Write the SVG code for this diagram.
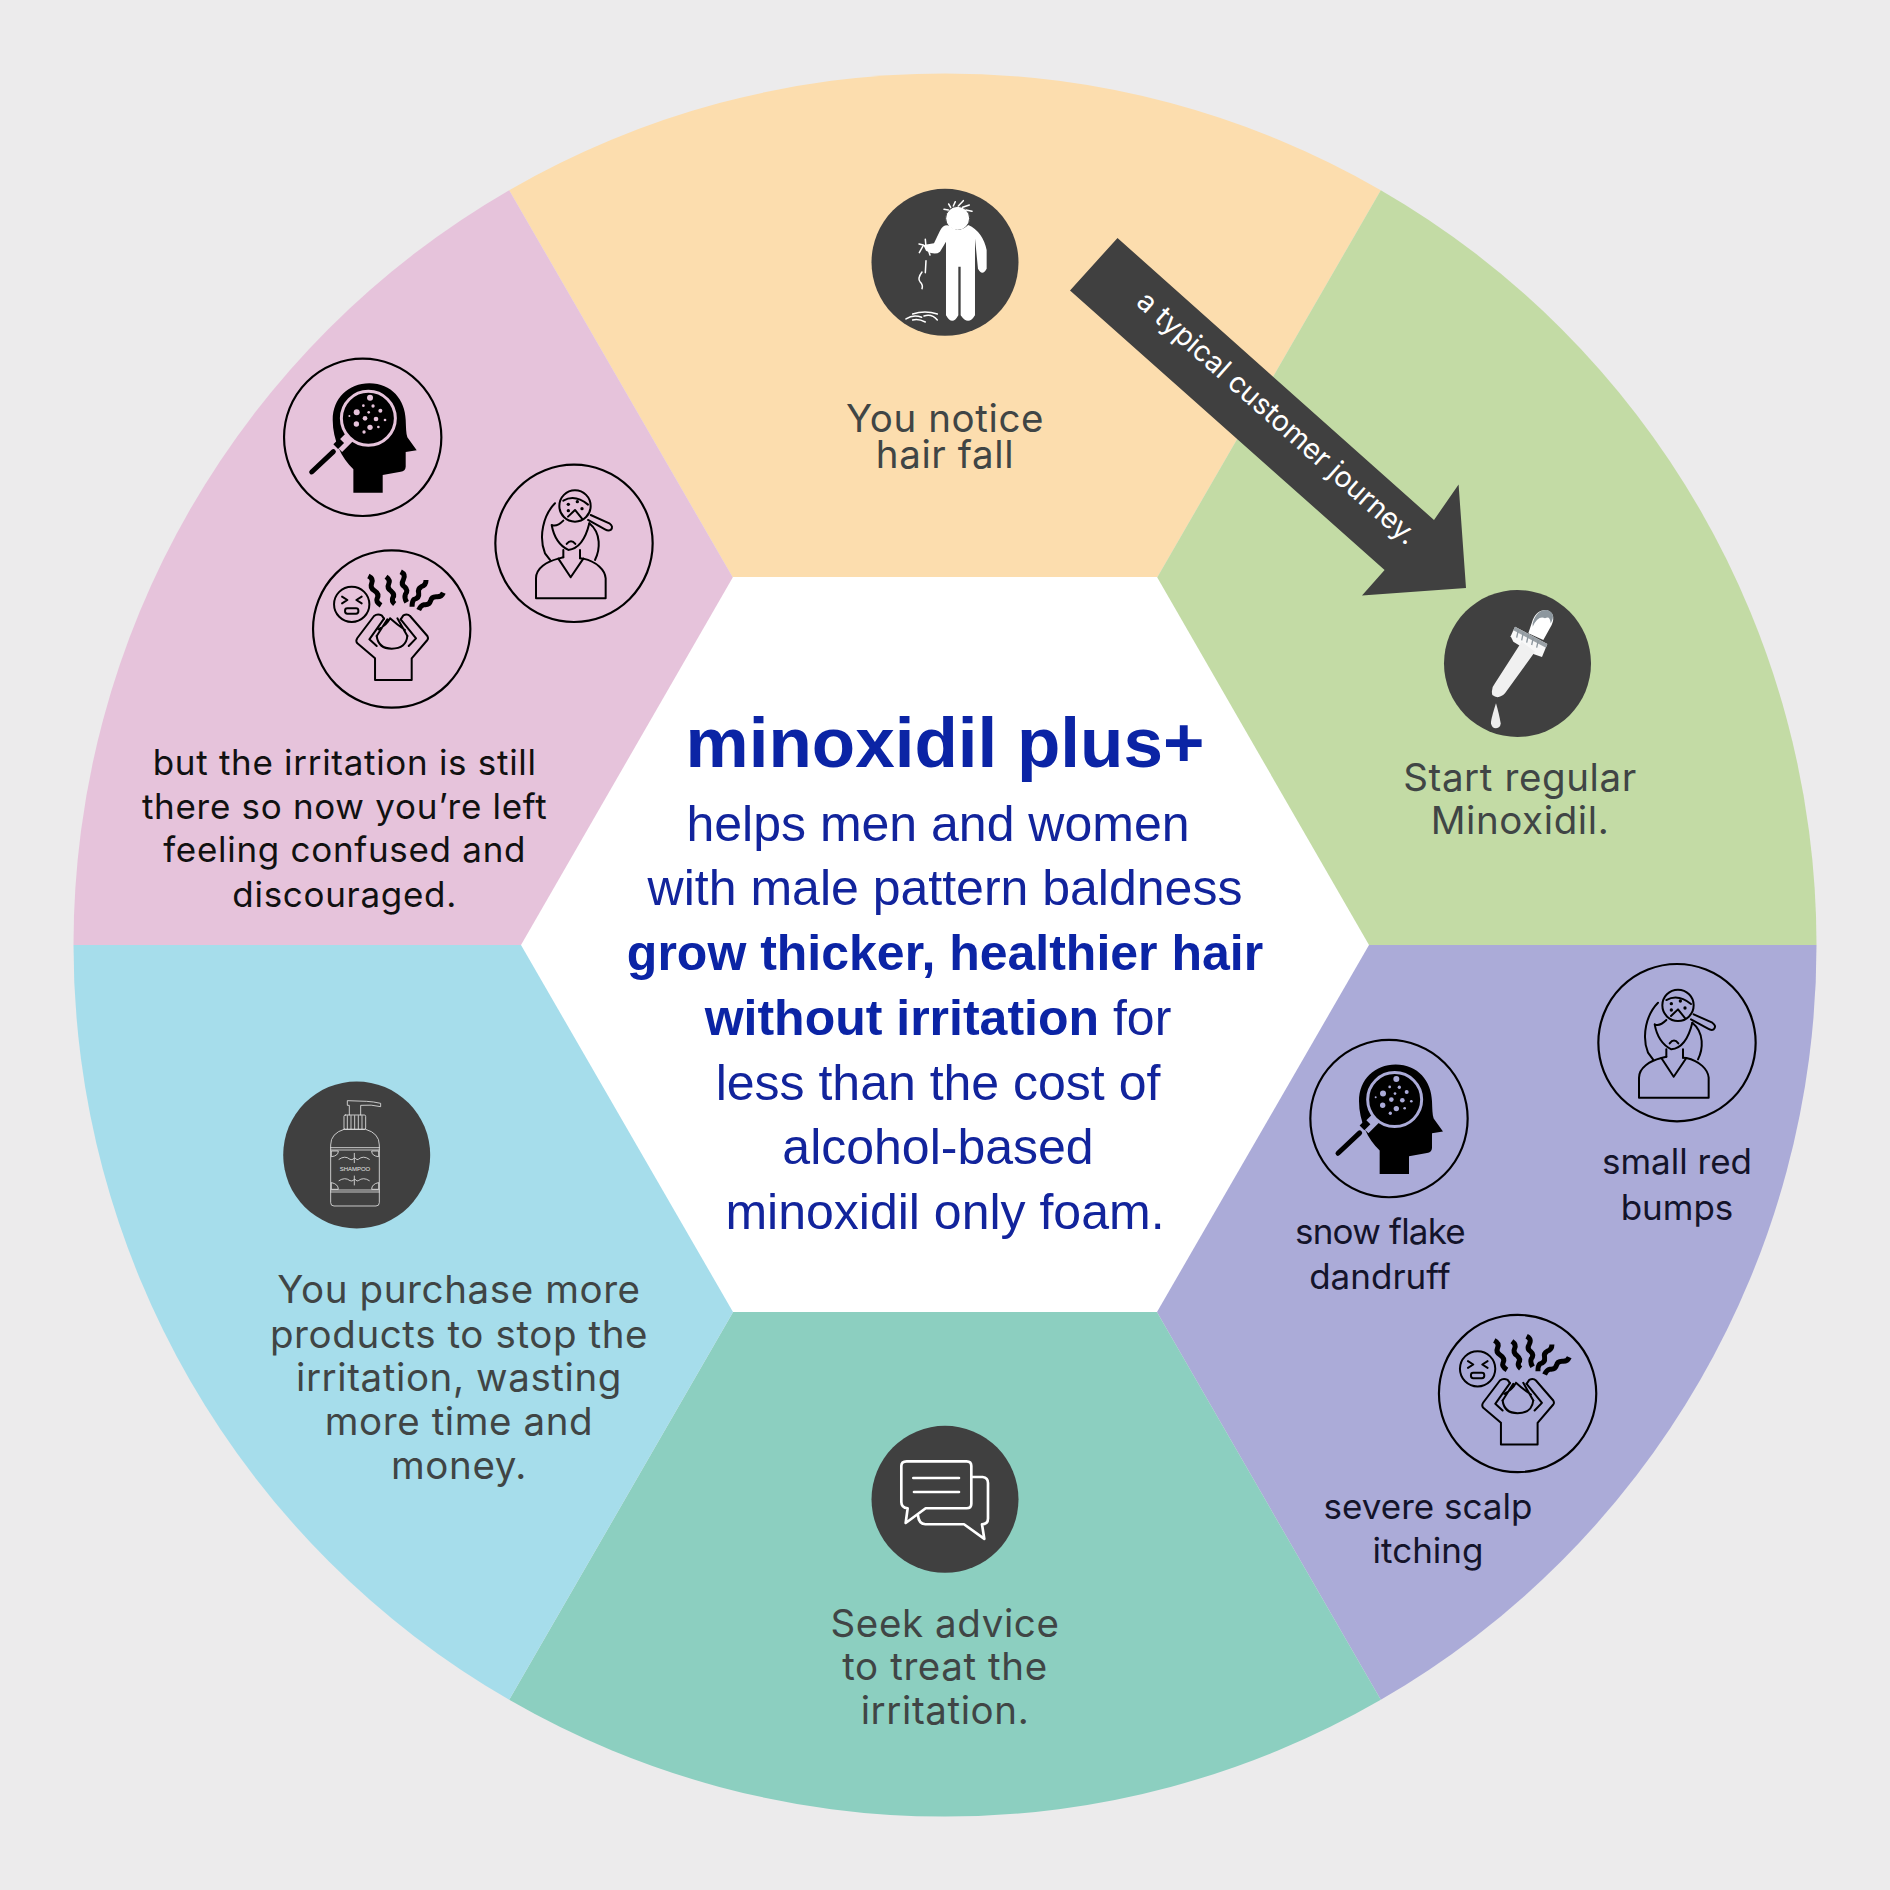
<svg xmlns="http://www.w3.org/2000/svg" width="1890" height="1890" viewBox="0 0 1890 1890">
<style>
.lbl{font-family:"Inter","Liberation Sans",sans-serif;font-size:38.5px;letter-spacing:.6px;fill:#404545;text-anchor:middle}
.alt{font-family:"Inter","Liberation Sans",sans-serif;font-size:35px;fill:#14142a;text-anchor:middle}
.pk{font-family:"Inter","Liberation Sans",sans-serif;font-size:35px;letter-spacing:.7px;fill:#111;text-anchor:middle}
.ctr{font-family:"Liberation Sans",Arial,sans-serif;font-size:50px;fill:#12249c;text-anchor:middle}
.b{font-weight:700;fill:#0b24a5}
.disc{fill:#404040}
.ring{fill:none;stroke:#000;stroke-width:6.5}
.ln{fill:none;stroke:#000;stroke-width:6;stroke-linejoin:round;stroke-linecap:round}
.wl{fill:none;stroke:#fff;stroke-linecap:round;stroke-linejoin:round}
.sq{fill:none;stroke:#000;stroke-width:15;stroke-linejoin:round}
.gl{fill:none;stroke:#e4e4e4;stroke-width:2.5;stroke-linejoin:round;stroke-linecap:round}
</style>
<defs>
<g id="head" transform="translate(-278,-292)">
<circle class="ring" cx="278" cy="292" r="236"/>
<path d="M250,458 L250,388 C215,355 188,300 188,240 C188,175 235,130 298,130 C365,130 405,180 407,240 C408,262 408,280 412,292 L440,331 L407,336 L407,380 Q406,394 392,395 L338,405 L338,458 Z" fill="#000"/>
<circle cx="295" cy="235" r="81" fill="#000" stroke="currentColor" stroke-width="9"/>
<path d="M238,292 L205,325" stroke="currentColor" stroke-width="32" fill="none"/>
<path d="M215,302 L197,320" stroke="#000" stroke-width="20" fill="none"/>
<path d="M190,335 L125,396" stroke="#000" stroke-width="15" stroke-linecap="round" fill="none"/>
<g fill="currentColor">
<circle cx="300" cy="173" r="9"/><circle cx="260" cy="217" r="9"/><circle cx="285" cy="235" r="7"/><circle cx="259" cy="252" r="8"/><circle cx="300" cy="262" r="8"/><circle cx="318" cy="237" r="7"/><circle cx="331" cy="212" r="6"/><circle cx="309" cy="198" r="5"/><circle cx="280" cy="197" r="4"/><circle cx="345" cy="240" r="4"/><circle cx="238" cy="228" r="3"/><circle cx="282" cy="276" r="5"/><circle cx="325" cy="261" r="4"/><circle cx="296" cy="217" r="4"/>
</g>
</g>
<g id="woman" transform="translate(-222,-220)">
<circle class="ring" cx="222" cy="220" r="236"/>
<g class="ln">
<circle cx="225" cy="108" r="47"/>
<path d="M272,135 L328,160 Q342,170 332,180 Q325,184 315,178 L264,150"/>
<path d="M190,92 Q225,72 264,104"/>
<path d="M204,140 L225,120 L246,146"/>
<path d="M165,100 C130,135 115,200 135,250 L150,270"/>
<path d="M268,160 C305,190 300,240 285,270"/>
<path d="M155,165 Q165,220 205,240 Q250,235 268,160 M155,165 Q170,172 190,152"/>
<path d="M200,222 Q213,205 226,222"/>
<path d="M190,240 L190,262 M240,240 L240,265"/>
<path d="M175,266 L212,322 L250,266"/>
<path d="M108,385 L108,325 C108,295 140,275 175,266 L190,262 M240,265 L250,266 C290,275 315,300 317,325 L317,385 L108,385"/>
</g>
<g fill="#000"><circle cx="205" cy="103" r="5"/><circle cx="232" cy="95" r="5"/><circle cx="205" cy="122" r="5"/><circle cx="246" cy="116" r="5"/></g>
</g>
<g id="stress" transform="translate(-245,-237)">
<circle class="ring" cx="245" cy="237" r="236"/>
<circle class="ln" cx="125" cy="163" r="53"/>
<path class="ln" d="M96,140 L112,150 L96,160 M155,140 L139,150 L155,160"/>
<rect class="ln" x="105" y="175" width="40" height="16" rx="7"/>
<path class="sq" d="M175,78 q16,8 10,22 q-6,14 8,22 q16,10 8,24 q-4,10 12,20"/>
<path class="sq" d="M228,80 q14,10 8,22 q-6,12 8,22 q12,10 4,20 q-4,10 6,18"/>
<path class="sq" d="M272,65 q16,8 8,24 q-8,14 4,22 q12,10 2,22 q-4,10 4,24"/>
<path class="sq" d="M348,90 q0,16 -14,20 q-12,6 -8,20 q2,14 -14,18 q-6,6 -6,22"/>
<path class="sq" d="M400,128 q-6,14 -22,12 q-14,0 -16,12 q-4,14 -20,12 q-10,2 -16,16"/>
<path class="ln" d="M195,325 L195,390 L305,390 L305,325 L352,270 Q356,265 352,258 L300,198 Q292,190 280,196 L272,208 M195,325 L142,280 Q136,272 142,264 L192,198 Q202,190 215,196 L222,206"/>
<path class="ln" d="M222,206 L178,268 L200,288 M272,208 L318,265 L296,288"/>
<path class="ln" d="M200,258 Q205,296 245,296 Q288,296 292,258"/>
<path class="ln" d="M200,258 L232,208 M292,258 L262,205 M205,238 Q230,225 240,205 M240,205 Q262,225 285,240"/>
</g>
</defs>

<rect width="1890" height="1890" fill="#ecebec"/>

<g id="wheel">
<path d="M945,945 L509.2,190.2 A871.5,871.5 0 0 1 1380.8,190.2 Z" fill="#fcddae"/>
<path d="M945,945 L1380.8,190.2 A871.5,871.5 0 0 1 1816.5,945 Z" fill="#c3dba5"/>
<path d="M945,945 L1816.5,945 A871.5,871.5 0 0 1 1380.8,1699.8 Z" fill="#ababd8"/>
<path d="M945,945 L1380.8,1699.8 A871.5,871.5 0 0 1 509.2,1699.8 Z" fill="#8ccfc0"/>
<path d="M945,945 L509.2,1699.8 A871.5,871.5 0 0 1 73.5,945 Z" fill="#a6ddeb"/>
<path d="M945,945 L73.5,945 A871.5,871.5 0 0 1 509.2,190.2 Z" fill="#e6c3db"/>
</g>

<g id="center">
<polygon points="733,577 1157,577 1369,945 1157,1312 733,1312 521,945" fill="#fff"/>
<text class="ctr b" x="945" y="767" style="font-size:71px">minoxidil plus+</text>
<text class="ctr" x="938" y="841">helps men and women</text>
<text class="ctr" x="945" y="905">with male pattern baldness</text>
<text class="ctr b" x="945" y="970">grow thicker, healthier hair</text>
<text class="ctr" x="938" y="1035"><tspan class="b">without irritation</tspan> for</text>
<text class="ctr" x="938" y="1100">less than the cost of</text>
<text class="ctr" x="938" y="1164">alcohol-based</text>
<text class="ctr" x="945" y="1229">minoxidil only foam.</text>
</g>

<g id="connectors">
<polygon points="1117.5,238 1434,520 1458.6,484.5 1466,588 1362,595.5 1384.6,570 1070,290.5" fill="#404040"/>
<text transform="translate(1135,304) rotate(41.7)" font-family="Inter,'Liberation Sans',sans-serif" font-size="28.5" fill="#fff">a typical customer journey.</text>
</g>

<g id="node-hair-fall">
<circle class="disc" cx="945" cy="262.3" r="73.5"/>
<g transform="translate(840,170) scale(.3333)">
<circle cx="353" cy="145" r="36" fill="#fff" stroke="#404040" stroke-width="3"/>
<path d="M300,182 Q312,160 330,168 Q355,192 385,165 Q428,185 440,240 L440,296 Q427,320 414,296 L405,205 L405,436 Q385,469 362,436 L362,290 L355,290 L355,436 Q337,469 318,436 L318,215 L300,245 Q285,258 258,242 L250,225 L282,220 Z" fill="#fff"/>
<g class="wl" stroke-width="4.5">
<path d="M340,108 L346,95 M332,112 L326,102 M355,108 L370,92 M368,112 L388,105 M378,120 L396,124 M325,120 L312,118"/>
<path d="M258,272 L256,308 M246,306 Q232,325 240,335 Q250,345 246,356"/>
<path d="M250,226 L238,248 M250,225 L237,222 M258,230 L256,208 M265,240 L270,255"/>
<path d="M218,432 Q255,420 292,432 M198,447 Q220,432 245,442 M252,438 Q275,430 292,450 M218,450 Q235,445 256,456"/>
</g>
</g>
<text class="lbl" x="945" y="431.5">You notice</text>
<text class="lbl" x="945" y="468">hair fall</text>
</g>

<g id="node-minoxidil">
<circle class="disc" cx="1517.5" cy="663.5" r="73.5"/>
<g transform="translate(1460,595) scale(.3333)">
<path d="M215,85 Q225,45 260,45 Q290,55 275,90 L250,135 L205,115 Z" fill="#fff"/>
<path d="M218,85 Q230,42 262,45 Q290,55 272,85 Q270,60 255,70 Q235,60 218,95 Z" fill="#8d979e"/>
<path d="M165,95 L262,147 L246,186 L222,178 L160,140 L152,124 Z" fill="#f8f8f8"/>
<path d="M165,95 L262,147 L258,158 L160,106 Z" fill="#9aa1a6"/>
<path d="M175,105 L170,128 M190,112 L185,136 M205,120 L200,143 M220,128 L215,150 M235,136 L230,158" stroke="#8d979e" stroke-width="4"/>
<path d="M185,140 L225,170 L135,295 Q115,315 97,300 Q92,280 105,265 Z" fill="#f0f0f0"/>
<path d="M108,325 Q92,375 93,385 Q95,400 108,400 Q122,398 122,385 Q118,360 108,325 Z" fill="#eee"/>
</g>
<text class="lbl" x="1520" y="791">Start regular</text>
<text class="lbl" x="1520" y="834">Minoxidil.</text>
</g>

<g id="node-symptoms" style="color:#ababd8">
<use href="#head" transform="translate(1389,1118.6) scale(.3333)"/>
<use href="#woman" transform="translate(1677,1042.7) scale(.3333)"/>
<use href="#stress" transform="translate(1517.6,1393.5) scale(.3333)"/>
<text class="alt" x="1380" y="1244" style="letter-spacing:-.8px">snow flake</text>
<text class="alt" x="1380" y="1288.6">dandruff</text>
<text class="alt" x="1677" y="1174">small red</text>
<text class="alt" x="1677" y="1220">bumps</text>
<text class="alt" x="1428" y="1519">severe scalp</text>
<text class="alt" x="1428" y="1563">itching</text>
</g>

<g id="node-seek-advice">
<circle class="disc" cx="945" cy="1499.3" r="73.5"/>
<g transform="translate(860,1420.3) scale(.3333)" class="wl" stroke-width="8">
<path d="M140,123 L320,123 Q334,123 334,137 L334,250 Q334,264 320,264 L197,264 L137,308 L143,264 Q124,262 124,245 L124,137 Q124,123 140,123 Z"/>
<path d="M160,173 L297,173 M162,215 L297,215"/>
<path d="M334,170 L368,170 Q384,172 384,188 L384,295 Q384,312 366,312 L373,356 L312,312 L196,312 Q176,310 174,285"/>
</g>
<text class="lbl" x="945" y="1637">Seek advice</text>
<text class="lbl" x="945" y="1680">to treat the</text>
<text class="lbl" x="945" y="1724">irritation.</text>
</g>

<g id="node-shampoo">
<circle class="disc" cx="356.7" cy="1155" r="73.5"/>
<g transform="translate(270,1070) scale(.3333)" class="gl">
<path d="M238,135 L238,106 L232,106 L232,92 L290,94 Q310,95 332,100 L332,110 Q305,103 272,106 L272,135"/>
<rect x="222" y="135" width="65" height="43" rx="4"/>
<path d="M232,137 V176 M243,137 V176 M254,137 V176 M265,137 V176 M276,137 V176"/>
<path d="M222,178 L287,178 Q328,190 328,225 L328,398 Q328,408 318,408 L192,408 Q182,408 182,398 L182,225 Q182,190 222,178 Z"/>
<path d="M182,233 L328,233 M182,240 L328,240 M182,360 L328,360 M182,366 L328,366"/>
<path d="M185,243 L205,243 Q205,258 185,260 Z M325,243 L305,243 Q305,258 325,260 Z M185,358 L205,358 Q205,342 185,338 Z M325,358 L305,358 Q305,342 325,338 Z"/>
<path d="M207,268 Q225,255 240,268 Q245,272 253,265 M298,268 Q280,255 265,268 Q262,272 256,265 M253,250 L253,278"/>
<path d="M207,332 Q225,320 240,332 Q245,336 253,329 M298,332 Q280,320 265,332 Q262,336 256,329 M253,318 L253,345"/>
<text x="255" y="303" stroke="none" fill="#e4e4e4" font-family="'Liberation Sans',sans-serif" font-size="18" text-anchor="middle">SHAMPOO</text>
</g>
<text class="lbl" x="459" y="1303">You purchase more</text>
<text class="lbl" x="459" y="1347.6">products to stop the</text>
<text class="lbl" x="459" y="1391">irritation, wasting</text>
<text class="lbl" x="459" y="1434.5">more time and</text>
<text class="lbl" x="459" y="1479">money.</text>
</g>

<g id="node-confused" style="color:#e6c3db">
<use href="#head" transform="translate(362.7,437.3) scale(.3333)"/>
<use href="#woman" transform="translate(574,543.3) scale(.3333)"/>
<use href="#stress" transform="translate(391.7,629) scale(.3333)"/>
<text class="pk" x="344.7" y="775">but the irritation is still</text>
<text class="pk" x="344.7" y="818.5">there so now you’re left</text>
<text class="pk" x="344.7" y="862">feeling confused and</text>
<text class="pk" x="344.7" y="906.5">discouraged.</text>
</g>
</svg>
